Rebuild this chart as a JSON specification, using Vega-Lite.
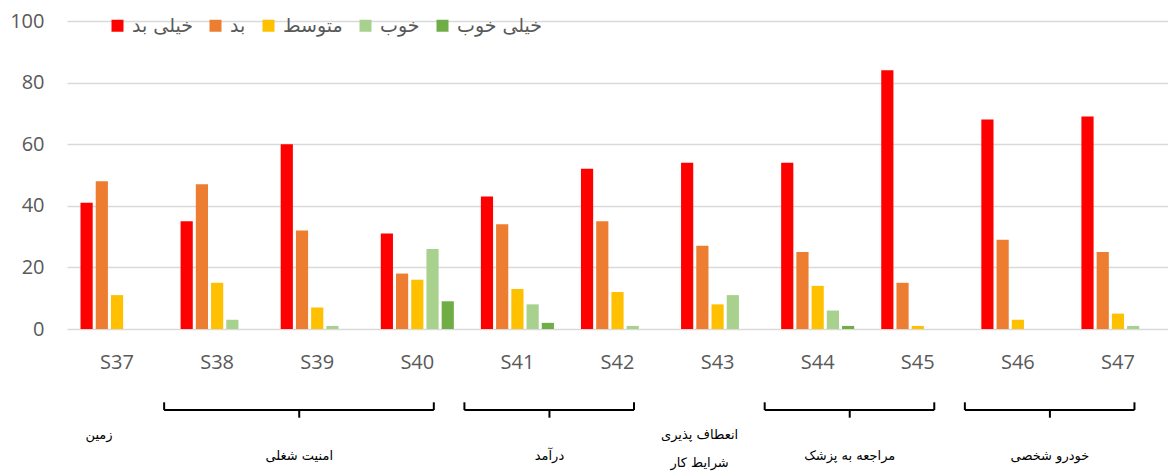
{
  "$schema": "https://vega.github.io/schema/vega-lite/v6.json",
  "autosize": {"type": "none"},
  "padding": {"left": 67, "top": 21, "right": 0, "bottom": 147},
  "width": 1101,
  "height": 308,
  "config": {"view": {"stroke": null}, "font": "Open Sans"},
  "datasets": {
    "answers": [
      {"question": "S37", "rating": "خیلی بد", "percent": 41},
      {"question": "S37", "rating": "بد", "percent": 48},
      {"question": "S37", "rating": "متوسط", "percent": 11},
      {"question": "S37", "rating": "خوب", "percent": 0},
      {"question": "S37", "rating": "خیلی خوب", "percent": 0},
      {"question": "S38", "rating": "خیلی بد", "percent": 35},
      {"question": "S38", "rating": "بد", "percent": 47},
      {"question": "S38", "rating": "متوسط", "percent": 15},
      {"question": "S38", "rating": "خوب", "percent": 3},
      {"question": "S38", "rating": "خیلی خوب", "percent": 0},
      {"question": "S39", "rating": "خیلی بد", "percent": 60},
      {"question": "S39", "rating": "بد", "percent": 32},
      {"question": "S39", "rating": "متوسط", "percent": 7},
      {"question": "S39", "rating": "خوب", "percent": 1},
      {"question": "S39", "rating": "خیلی خوب", "percent": 0},
      {"question": "S40", "rating": "خیلی بد", "percent": 31},
      {"question": "S40", "rating": "بد", "percent": 18},
      {"question": "S40", "rating": "متوسط", "percent": 16},
      {"question": "S40", "rating": "خوب", "percent": 26},
      {"question": "S40", "rating": "خیلی خوب", "percent": 9},
      {"question": "S41", "rating": "خیلی بد", "percent": 43},
      {"question": "S41", "rating": "بد", "percent": 34},
      {"question": "S41", "rating": "متوسط", "percent": 13},
      {"question": "S41", "rating": "خوب", "percent": 8},
      {"question": "S41", "rating": "خیلی خوب", "percent": 2},
      {"question": "S42", "rating": "خیلی بد", "percent": 52},
      {"question": "S42", "rating": "بد", "percent": 35},
      {"question": "S42", "rating": "متوسط", "percent": 12},
      {"question": "S42", "rating": "خوب", "percent": 1},
      {"question": "S42", "rating": "خیلی خوب", "percent": 0},
      {"question": "S43", "rating": "خیلی بد", "percent": 54},
      {"question": "S43", "rating": "بد", "percent": 27},
      {"question": "S43", "rating": "متوسط", "percent": 8},
      {"question": "S43", "rating": "خوب", "percent": 11},
      {"question": "S43", "rating": "خیلی خوب", "percent": 0},
      {"question": "S44", "rating": "خیلی بد", "percent": 54},
      {"question": "S44", "rating": "بد", "percent": 25},
      {"question": "S44", "rating": "متوسط", "percent": 14},
      {"question": "S44", "rating": "خوب", "percent": 6},
      {"question": "S44", "rating": "خیلی خوب", "percent": 1},
      {"question": "S45", "rating": "خیلی بد", "percent": 84},
      {"question": "S45", "rating": "بد", "percent": 15},
      {"question": "S45", "rating": "متوسط", "percent": 1},
      {"question": "S45", "rating": "خوب", "percent": 0},
      {"question": "S45", "rating": "خیلی خوب", "percent": 0},
      {"question": "S46", "rating": "خیلی بد", "percent": 68},
      {"question": "S46", "rating": "بد", "percent": 29},
      {"question": "S46", "rating": "متوسط", "percent": 3},
      {"question": "S46", "rating": "خوب", "percent": 0},
      {"question": "S46", "rating": "خیلی خوب", "percent": 0},
      {"question": "S47", "rating": "خیلی بد", "percent": 69},
      {"question": "S47", "rating": "بد", "percent": 25},
      {"question": "S47", "rating": "متوسط", "percent": 5},
      {"question": "S47", "rating": "خوب", "percent": 1},
      {"question": "S47", "rating": "خیلی خوب", "percent": 0}
    ],
    "groups": [
      {"label": "زمین", "first": 37, "last": 37},
      {"label": "امنیت شغلی", "first": 38, "last": 40},
      {"label": "درآمد", "first": 41, "last": 42},
      {"label": ["انعطاف پذیری", "شرایط کار"], "first": 43, "last": 43},
      {"label": "مراجعه به پزشک", "first": 44, "last": 45},
      {"label": "خودرو شخصی", "first": 46, "last": 47}
    ]
  },
  "layer": [
    {
      "data": {"name": "answers"},
      "mark": {"type": "bar"},
      "encoding": {
        "x": {
          "field": "question", "type": "nominal", "sort": null,
          "scale": {"paddingInner": 0.27, "paddingOuter": 0.135},
          "axis": {"title": null, "labelAngle": 0, "labelFontSize": 20, "labelColor": "#595959", "ticks": false, "domain": false, "labelPadding": 23, "grid": false}
        },
        "xOffset": {
          "field": "rating", "type": "nominal",
          "sort": ["خیلی بد", "بد", "متوسط", "خوب", "خیلی خوب"],
          "scale": {"paddingInner": 0.2, "paddingOuter": 0}
        },
        "y": {
          "field": "percent", "type": "quantitative",
          "scale": {"domain": [0, 100], "nice": false},
          "axis": {"title": null, "values": [0, 20, 40, 60, 80, 100], "labelFontSize": 20, "labelColor": "#595959", "ticks": false, "domain": false, "labelPadding": 23, "gridColor": "#d9d9d9", "gridWidth": 1.6}
        },
        "color": {
          "field": "rating", "type": "nominal",
          "sort": ["خیلی بد", "بد", "متوسط", "خوب", "خیلی خوب"],
          "scale": {"domain": ["خیلی بد", "بد", "متوسط", "خوب", "خیلی خوب"], "range": ["#FF0000", "#ED7D31", "#FFC000", "#A9D18E", "#70AD47"]},
          "legend": {"title": null, "orient": "none", "direction": "horizontal", "columns": 5, "legendX": 41, "legendY": -5, "symbolType": "square", "symbolSize": 144, "symbolStrokeWidth": 0, "labelFontSize": 19, "labelFont": "DejaVu Sans", "labelColor": "#595959", "columnPadding": 13, "labelOffset": 5, "padding": 0}
        }
      }
    },
    {
      "data": {"name": "groups"},
      "transform": [{"filter": "datum.last > datum.first"}],
      "mark": {"type": "rule", "color": "black", "strokeWidth": 2, "xOffset": -53, "x2Offset": 16.5},
      "encoding": {
        "x": {"field": "first", "type": "quantitative", "scale": {"domain": [36.5, 47.5], "nice": false, "zero": false}, "axis": null},
        "x2": {"field": "last"},
        "y": {"datum": -26.3, "type": "quantitative", "scale": {"domain": [0, 100], "nice": false}, "axis": null}
      }
    },
    {
      "data": {"name": "groups"},
      "transform": [{"filter": "datum.last > datum.first"}],
      "mark": {"type": "rule", "color": "black", "strokeWidth": 2, "xOffset": -53},
      "encoding": {
        "x": {"field": "first", "type": "quantitative", "scale": {"domain": [36.5, 47.5], "nice": false, "zero": false}, "axis": null},
        "y": {"datum": -23.8, "type": "quantitative", "scale": {"domain": [0, 100], "nice": false}, "axis": null},
        "y2": {"datum": -26.3}
      }
    },
    {
      "data": {"name": "groups"},
      "transform": [{"filter": "datum.last > datum.first"}],
      "mark": {"type": "rule", "color": "black", "strokeWidth": 2, "xOffset": 16.5},
      "encoding": {
        "x": {"field": "last", "type": "quantitative", "scale": {"domain": [36.5, 47.5], "nice": false, "zero": false}, "axis": null},
        "y": {"datum": -23.8, "type": "quantitative", "scale": {"domain": [0, 100], "nice": false}, "axis": null},
        "y2": {"datum": -26.3}
      }
    },
    {
      "data": {"name": "groups"},
      "transform": [{"filter": "datum.last > datum.first"}, {"calculate": "(datum.first + datum.last) / 2", "as": "mid"}],
      "mark": {"type": "rule", "color": "black", "strokeWidth": 2, "xOffset": -18},
      "encoding": {
        "x": {"field": "mid", "type": "quantitative", "scale": {"domain": [36.5, 47.5], "nice": false, "zero": false}, "axis": null},
        "y": {"datum": -26.3, "type": "quantitative", "scale": {"domain": [0, 100], "nice": false}, "axis": null},
        "y2": {"datum": -28.8}
      }
    },
    {
      "data": {"name": "groups"},
      "transform": [{"filter": "datum.last > datum.first"}, {"calculate": "(datum.first + datum.last) / 2", "as": "mid"}],
      "mark": {"type": "text", "font": "DejaVu Sans", "fontSize": 13, "color": "black", "baseline": "middle", "align": "center", "xOffset": -18},
      "encoding": {
        "x": {"field": "mid", "type": "quantitative", "scale": {"domain": [36.5, 47.5], "nice": false, "zero": false}, "axis": null},
        "y": {"datum": -41.2, "type": "quantitative", "scale": {"domain": [0, 100], "nice": false}, "axis": null},
        "text": {"field": "label"}
      }
    },
    {
      "data": {"name": "groups"},
      "transform": [{"filter": "datum.last == datum.first"}],
      "mark": {"type": "text", "font": "DejaVu Sans", "fontSize": 13, "color": "black", "baseline": "top", "align": "center", "xOffset": -18, "lineHeight": 28},
      "encoding": {
        "x": {"field": "first", "type": "quantitative", "scale": {"domain": [36.5, 47.5], "nice": false, "zero": false}, "axis": null},
        "y": {"datum": -32.5, "type": "quantitative", "scale": {"domain": [0, 100], "nice": false}, "axis": null},
        "text": {"field": "label"}
      }
    }
  ],
  "resolve": {"scale": {"x": "independent", "y": "independent"}}
}
